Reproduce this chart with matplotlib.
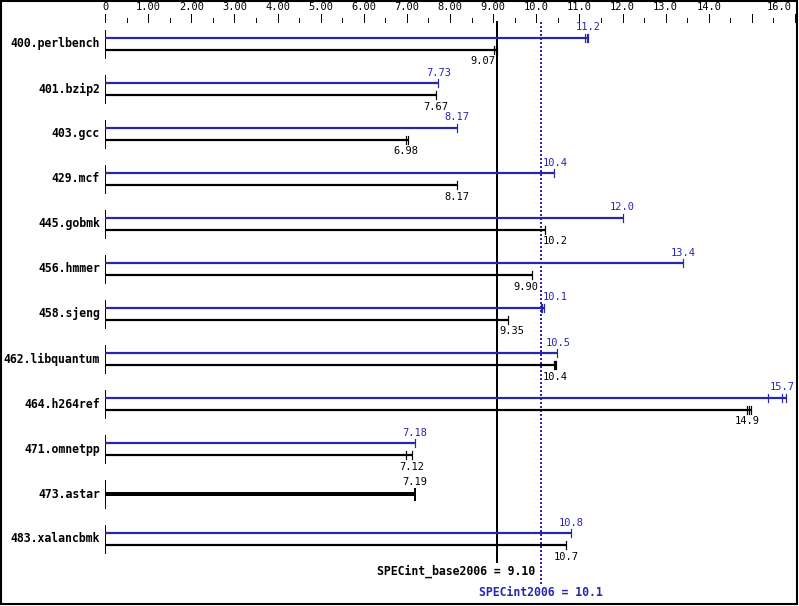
"""
SPEC CPU2006 整数测试结果图 (SPECint2006 / SPECint_base2006)
每个基准两条横线：上面蓝色为 peak，下面黑色为 base
"""

import matplotlib.pyplot as plt
from matplotlib.patches import Rectangle

# ---- 数据 ----
benchmarks = ["400.perlbench", "401.bzip2", "403.gcc", "429.mcf", "445.gobmk",
              "456.hmmer", "458.sjeng", "462.libquantum", "464.h264ref",
              "471.omnetpp", "473.astar", "483.xalancbmk"]
peak = [11.2, 7.73, 8.17, 10.4, 12.0, 13.4, 10.1, 10.5, 15.7, 7.18, None, 10.8]
base = [9.07, 7.67, 6.98, 8.17, 10.2, 9.90, 9.35, 10.4, 14.9, 7.12, 7.19, 10.7]

# 单次运行的结果 (横线末端的小竖线)
peak_runs = [[11.12, 11.18, 11.2], [7.73], [8.17], [10.4], [12.0], [13.4],
             [10.1, 10.14, 10.17], [10.47], [15.37, 15.7, 15.78], [7.18], [], [10.8]]
base_runs = [[9.03, 9.07, 9.09], [7.67], [6.98, 7.03], [8.17], [10.2], [9.90],
             [9.35], [10.4, 10.43, 10.45], [14.88, 14.93, 14.98], [6.98, 7.12],
             [7.19], [10.7]]

peak_mean = 10.1
base_mean = 9.10
x_ticks = list(range(0, 17))
x_tick_labels = ["0", "1.00", "2.00", "3.00", "4.00", "5.00", "6.00", "7.00",
                 "8.00", "9.00", "10.0", "11.0", "12.0", "13.0", "14.0", "", "16.0"]

BLUE = "#2626b0"
MONO = "DejaVu Sans Mono"
PX = 0.72  # 1 像素 = 0.72 pt (dpi=100)


def fmt(v):
    return f"{v:.1f}" if v >= 10 else f"{v:.2f}"


def label_x(v):
    """数字标签避开两条参考线"""
    half, gap = 0.29, 0.05
    for ref in (base_mean, peak_mean):
        if abs(v - ref) < half + gap:
            return ref - half - gap if v < ref else ref + half + gap
    return v


def main():
    fig = plt.figure(figsize=(7.99, 6.06), dpi=100)
    ax = fig.add_axes([0, 0, 1, 1])
    scale = 690 / 16  # 每单位像素
    ax.set_xlim(-105 / scale, (799 - 105) / scale)
    ax.set_ylim(606, 0)
    ax.axis("off")

    # 顶部刻度
    for t, lab in zip(x_ticks, x_tick_labels):
        ax.plot([t, t], [14, 22], color="black", lw=PX)
        if t < 16:
            ax.plot([t + 0.5, t + 0.5], [17.5, 22], color="black", lw=PX)
        if lab:
            ha = "right" if t == 16 else "center"
            xx = t - 0.07 if t == 16 else t
            ax.text(xx, 7, lab, ha=ha, va="center", family=MONO, fontsize=7.5)

    # 参考线
    ax.plot([base_mean, base_mean], [22, 562], color="black", lw=2 * PX)
    ax.plot([peak_mean, peak_mean], [22, 584], color=BLUE, lw=2 * PX,
            linestyle=(0, (1, 1)))

    for i, name in enumerate(benchmarks):
        yc = 44 + 45 * i
        ax.plot([0, 0], [yc - 14, yc + 14], color="black", lw=PX)
        ax.text(-0.12, yc, name, ha="right", va="center", family=MONO,
                fontweight="bold", fontsize=8.3)

        if peak[i] is None:
            # peak 与 base 相同，画一条粗线
            ax.plot([0, base[i]], [yc, yc], color="black", lw=4 * PX,
                    solid_capstyle="butt")
            ax.plot([base[i], base[i]], [yc - 5, yc + 6], color="black", lw=2 * PX)
            ax.text(label_x(base[i]), yc - 12, fmt(base[i]), ha="center",
                    va="center", family=MONO, fontsize=7.5)
            continue

        yp, yb = yc - 6, yc + 6
        ax.plot([0, max(peak_runs[i] + [peak[i]])], [yp, yp], color=BLUE,
                lw=2.2 * PX, solid_capstyle="butt")
        for r in peak_runs[i]:
            ax.plot([r, r], [yp - 4, yp + 4], color=BLUE, lw=1.2 * PX)
        ax.text(label_x(peak[i]), yp - 10.5, fmt(peak[i]), ha="center",
                va="center", family=MONO, fontsize=7.5, color=BLUE)

        ax.plot([0, max(base_runs[i] + [base[i]])], [yb, yb], color="black",
                lw=2.2 * PX, solid_capstyle="butt")
        for r in base_runs[i]:
            ax.plot([r, r], [yb - 4, yb + 4], color="black", lw=1.2 * PX)
        ax.text(label_x(base[i]), yb + 11.5, fmt(base[i]), ha="center",
                va="center", family=MONO, fontsize=7.5)

    ax.text(peak_mean - 0.12, 571, f"SPECint_base2006 = {base_mean:.2f}",
            ha="right", va="center", family=MONO, fontweight="bold", fontsize=8.3)
    ax.text(peak_mean, 592, f"SPECint2006 = {peak_mean:.1f}", ha="center",
            va="center", family=MONO, fontweight="bold", fontsize=8.3, color=BLUE)

    # 外框
    fig.patches.append(Rectangle((0.001, 0.004), 0.997, 0.995, fill=False,
                                 edgecolor="black", lw=1.5,
                                 transform=fig.transFigure, figure=fig))

    plt.savefig("out.png", dpi=100)


if __name__ == "__main__":
    main()
